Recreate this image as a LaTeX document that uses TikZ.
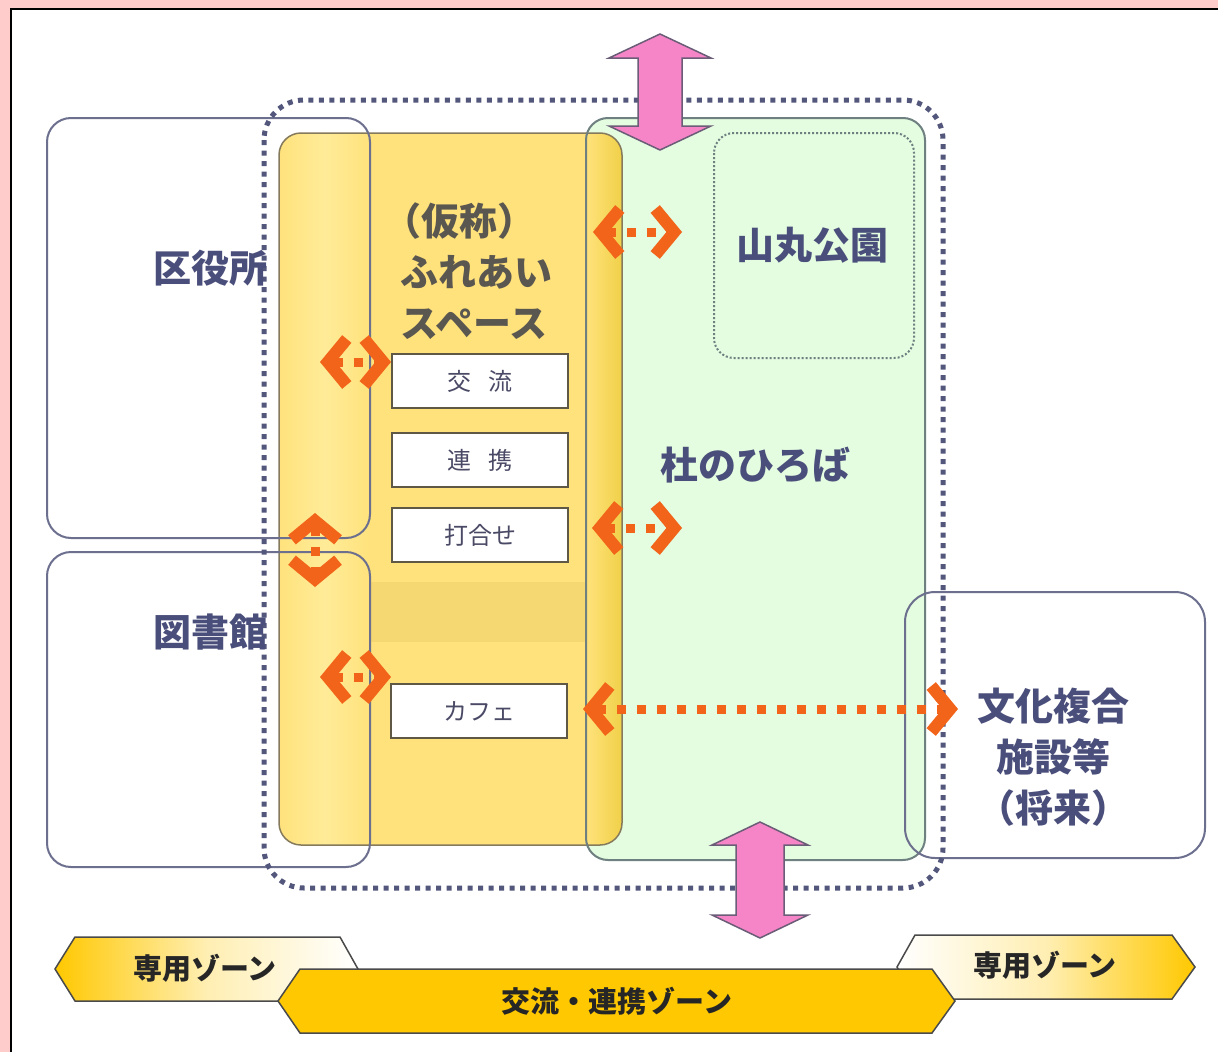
\documentclass[tikz,border=0pt]{standalone}
\usepackage{fontspec}
\setmainfont{Noto Sans CJK JP}
\usetikzlibrary{arrows.meta}
\definecolor{bgpink}{HTML}{FFCCCC}
\definecolor{boxline}{HTML}{6C6F8E}
\definecolor{dotline}{HTML}{53577C}
\definecolor{yel}{HTML}{FFE27C}
\definecolor{yeldark}{HTML}{F0D048}
\definecolor{yellight}{HTML}{FFEB98}
\definecolor{yelband}{HTML}{F6D872}
\definecolor{grn}{HTML}{E4FCE0}
\definecolor{grnline}{HTML}{6E8080}
\definecolor{yelline}{HTML}{857A5C}
\definecolor{orng}{HTML}{F2641A}
\definecolor{pinkarr}{HTML}{F585C6}
\definecolor{pinkline}{HTML}{6B5C78}
\definecolor{txtblue}{HTML}{4A4E7A}
\definecolor{txtbrown}{HTML}{5A5650}
\definecolor{boxtxt}{HTML}{4A4A66}
\definecolor{wboxline}{HTML}{5E5844}
\definecolor{gold}{HTML}{FFC800}
\definecolor{bannerline}{HTML}{4A4A4A}
\tikzset{
  chev/.tip={Straight Barb[length=19pt,width=46pt,line width=12pt]},
  orarr/.style={draw=orng, line width=9pt, dash pattern=on 9pt off 11pt, arrows={chev-chev}},
  regionbox/.style={draw=boxline, line width=2pt, rounded corners=24pt},
  lbl/.style={text=txtblue, font=\bfseries\fontsize{38}{51}\selectfont, inner sep=0pt},
  wbox/.style={draw=wboxline, fill=white, line width=1.5pt, minimum width=176pt, minimum height=54pt, inner sep=0pt, text=boxtxt, font=\fontsize{24}{28}\selectfont},
  pinkarrow/.style={fill=pinkarr, draw=pinkline, line width=1.5pt, line join=miter},
  banner/.style={draw=bannerline, line width=1.5pt},
  bantext/.style={text=black!85, font=\bfseries\fontsize{29}{32}\selectfont, inner sep=0pt}
}
\begin{document}
\begin{tikzpicture}[x=1pt,y=-1pt]
\useasboundingbox (0,0) rectangle (1218,1052);
\fill[bgpink] (0,0) rectangle (1218,1052);
\fill[white] (11,9) rectangle (1218,1052);
\draw[black, line width=1.5pt] (11,1052) -- (11,9) -- (1218,9);

% green plaza
\fill[grn, rounded corners=22pt] (586,118) rectangle (925,860);
% yellow space
\fill[yel, rounded corners=22pt] (279,133) rectangle (622,845);
\begin{scope}
  \clip[rounded corners=22pt] (279,133) rectangle (622,845);
  \shade[left color=yel, right color=yel, middle color=yellight] (279,133) rectangle (370,845);
  \shade[left color=yel, right color=yeldark] (586,133) rectangle (622,845);
  \fill[yelband] (371,582) rectangle (585,642);
\end{scope}
\draw[yelline, line width=1.5pt, rounded corners=22pt] (279,133) rectangle (622,845);
\draw[grnline, line width=2pt, rounded corners=22pt] (586,118) rectangle (925,860);

% side boxes
\draw[regionbox] (47,118) rectangle (370,538);
\draw[regionbox] (47,552) rectangle (370,867);
\draw[regionbox, rounded corners=30pt] (905,592) rectangle (1205,858);

% park dotted
\draw[grnline, line width=2pt, dash pattern=on 2pt off 2pt, rounded corners=20pt] (714,133) rectangle (914,358);
% big dotted outline
\draw[dotline, line width=5pt, dash pattern=on 5pt off 5.5pt, rounded corners=40pt] (264,100) rectangle (943,888);

% labels
\node[lbl] (kuyaku) at (210,268) {区役所};
\node[lbl] (tosho) at (210,632) {図書館};
\node[lbl, text=txtbrown, align=left, anchor=north west] (fureai) at (400,203) {\hspace*{-0.45em}（仮称）\\ふれあい\\スペース};
\node[lbl] (yamamaru) at (812,245) {山丸公園};
\node[lbl] (hiroba) at (755,465) {杜のひろば};
\node[lbl, align=center] (bunka) at (1053,757) {文化複合\\施設等\\（将来）};

% white boxes
\node[wbox] (koryu) at (480,381) {交\hspace{0.7em}流};
\node[wbox] (renkei) at (480,460) {連\hspace{0.7em}携};
\node[wbox] (uchiawase) at (480,535) {打合せ};
\node[wbox] (cafe) at (479,711) {カフェ};

% orange arrows
\coordinate (o1a) at (320,362); \coordinate (o1b) at (391,362);
\coordinate (o2a) at (320,677); \coordinate (o2b) at (391,677);
\coordinate (o3a) at (315,513); \coordinate (o3b) at (315,587);
\coordinate (o4a) at (593,232); \coordinate (o4b) at (682,232);
\coordinate (o5a) at (592,528); \coordinate (o5b) at (682,528);
\coordinate (o6a) at (583,709); \coordinate (o6b) at (958,709);
\draw[orarr] (o1a) -- (o1b);
\draw[orarr] (o2a) -- (o2b);
\draw[orarr] (o3a) -- (o3b);
\draw[orarr] (o4a) -- (o4b);
\draw[orarr] (o5a) -- (o5b);
\draw[orarr] (o6a) -- (o6b);

% pink arrows
\draw[pinkarrow] (660,34) -- (711,58) -- (682,58) -- (682,126) -- (711,126) -- (660,150) -- (609,126) -- (638,126) -- (638,58) -- (609,58) -- cycle;
\draw[pinkarrow] (760,822) -- (808,845) -- (784,845) -- (784,915) -- (808,915) -- (760,938) -- (712,915) -- (736,915) -- (736,845) -- (712,845) -- cycle;

% bottom banners
\draw[banner, left color=gold, right color=white, middle color=gold!30!white] (55,969) -- (75,937) -- (340,937) -- (358,969) -- (340,1001) -- (75,1001) -- cycle;
\draw[banner, left color=white, right color=gold, middle color=gold!30!white] (897,967) -- (915,935) -- (1172,935) -- (1195,967) -- (1172,999) -- (915,999) -- cycle;
\draw[banner, fill=gold] (278,1001) -- (300,969) -- (932,969) -- (955,1001) -- (932,1033) -- (300,1033) -- cycle;
\node[bantext] (senyoL) at (205,968) {専用ゾーン};
\node[bantext] (senyoR) at (1045,965) {専用ゾーン};
\node[bantext] (koryuzone) at (617,1001) {交流・連携ゾーン};
\end{tikzpicture}
\end{document}
